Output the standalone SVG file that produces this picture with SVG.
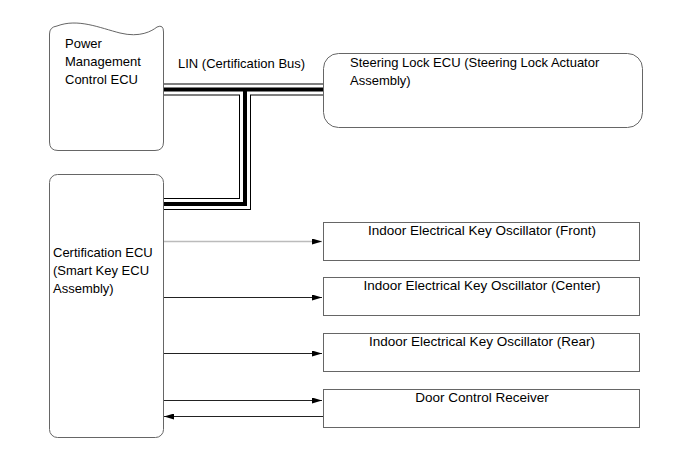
<svg xmlns="http://www.w3.org/2000/svg" width="690" height="464" viewBox="0 0 690 464">
<defs>
<style>
text{font-family:"Liberation Sans",Arial,sans-serif;font-size:13px;fill:#000}
.box{fill:#fff;stroke:#666;stroke-width:1}
.ln{fill:none;stroke:#222;stroke-width:1}
.lg{fill:none;stroke:#bbb;stroke-width:1.5}
.c{text-anchor:middle;font-size:13.5px}
</style>
<marker id="ah" viewBox="0 0 10 6" refX="10" refY="3" markerWidth="10" markerHeight="6" markerUnits="userSpaceOnUse" orient="auto">
<path d="M0,0 L10,3 L0,6 Z" fill="#000"/>
</marker>
</defs>
<rect width="690" height="464" fill="#fff"/>
<g id="connectors">
<g fill="none" stroke-linejoin="miter" stroke-linecap="butt">
<path d="M163,89.5 L323,89.5 M163,204 L245,204 L245,89.5" stroke="#000" stroke-width="12"/>
<path d="M163,89.5 L323,89.5 M163,204 L245,204 L245,89.5" stroke="#fff" stroke-width="10"/>
<path d="M163,89.5 L323,89.5 M163,204 L245,204 L245,89.5" stroke="#000" stroke-width="4"/>
</g>
<path class="lg" d="M163,241.5 L322,241.5" marker-end="url(#ah)"/>
<path class="ln" d="M163,297.5 L322,297.5" marker-end="url(#ah)"/>
<path class="ln" d="M163,353.5 L322,353.5" marker-end="url(#ah)"/>
<path class="ln" d="M163,400.5 L322,400.5" marker-end="url(#ah)"/>
<path class="ln" d="M323,416.5 L164,416.5" marker-end="url(#ah)"/>
<text x="178" y="68">LIN (Certification Bus)</text>
</g>
<g id="pm-ecu">
<path class="box" d="M49.5,34 Q49.5,27 57,26 C78,18 100,28 120,33 C140,38 152,31 157,27 Q163.5,24 163.5,32 L163.5,142 Q163.5,150.5 155,150.5 L58,150.5 Q49.5,150.5 49.5,142 Z"/>
<text x="65" y="48">Power</text>
<text x="65" y="66">Management</text>
<text x="65" y="84">Control ECU</text>
</g>
<g id="steering-lock">
<rect class="box" x="323.5" y="53.5" width="319" height="74" rx="15" ry="15"/>
<text x="350" y="67">Steering Lock ECU (Steering Lock Actuator</text>
<text x="350" y="85">Assembly)</text>
</g>
<g id="cert-ecu">
<rect class="box" x="49.5" y="174.5" width="114" height="263" rx="8" ry="8"/>
<text x="53" y="257">Certification ECU</text>
<text x="53" y="275">(Smart Key ECU</text>
<text x="53" y="293">Assembly)</text>
</g>
<g id="osc-front">
<rect class="box" x="323.5" y="222.5" width="316" height="38"/>
<text class="c" x="482" y="235">Indoor Electrical Key Oscillator (Front)</text>
</g>
<g id="osc-center">
<rect class="box" x="323.5" y="277.5" width="316" height="38"/>
<text class="c" x="482" y="290">Indoor Electrical Key Oscillator (Center)</text>
</g>
<g id="osc-rear">
<rect class="box" x="323.5" y="333.5" width="316" height="38"/>
<text class="c" x="482" y="346">Indoor Electrical Key Oscillator (Rear)</text>
</g>
<g id="door-receiver">
<rect class="box" x="323.5" y="389.5" width="316" height="38"/>
<text class="c" x="482" y="402">Door Control Receiver</text>
</g>
</svg>
